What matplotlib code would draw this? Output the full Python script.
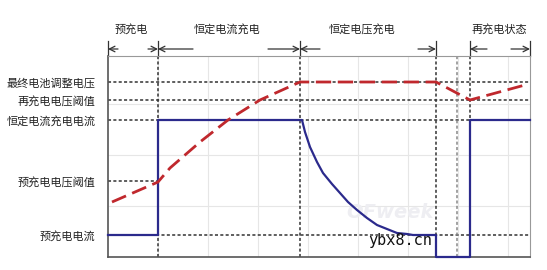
import matplotlib
matplotlib.use("Agg")
import matplotlib.pyplot as plt

plt.rcParams['font.family'] = ['Noto Sans CJK SC', 'DejaVu Sans']

# phase boundaries on the time axis (arbitrary units)
phase_bounds = [0, 50, 192, 328, 349, 362, 422]
phase_labels = ["预充电", "恒定电流充电", "恒定电压充电", "再充电状态"]
phase_label_x = [23, 119, 254, 391]

# reference levels on the y axis
level_labels = ["最终电池调整电压", "再充电电压阈值", "恒定电流充电电流", "预充电电压阈值", "预充电电流"]
level_values = [175, 157, 137, 76, 22]

# battery voltage (red dashed)
voltage_t = [4, 50, 62, 92, 120, 152, 192, 328, 362, 417]
voltage_v = [55, 75, 89, 115, 137, 157, 175, 175, 157, 172]

# charge current (blue)
current_t = [0, 50, 50, 192, 194, 197, 202, 209, 215, 224, 232, 240, 249, 259,
             269, 279, 289, 299, 305, 328, 328, 362, 362, 422]
current_i = [22, 22, 137, 137, 137, 125, 110, 95, 84, 73, 64, 55, 47, 39,
             32, 28, 24, 23, 22, 22, 0, 0, 137, 137]

fig = plt.figure(figsize=(5.47, 2.70), dpi=100)
ax = fig.add_axes([108 / 547, 13 / 270, 422 / 547, 201 / 270])
ax.set_xlim(0, 422)
ax.set_ylim(0, 201)

# faint background grid
ax.vlines(range(50, 422, 50), 0, 201, color="#e6e6e6", lw=0.8, zorder=0)
ax.hlines([51, 102, 153], 0, 422, color="#e6e6e6", lw=0.8, zorder=0)

dot = (0, (2, 1.5))
# horizontal reference lines
for v in level_values:
    x_end = 50 if v == 76 else 422
    ax.hlines(v, 0, x_end, color="#333333", lw=1.1, linestyles=[dot], zorder=1)
# vertical phase lines
for b in phase_bounds[1:-1]:
    c = "#888888" if b == 349 else "#333333"
    ax.vlines(b, 0, 201, color=c, lw=1.1, linestyles=[dot], zorder=1)

ax.plot(current_t, current_i, color="#2b2a8c", lw=1.6, zorder=3, clip_on=False,
        solid_joinstyle="round")
ax.plot(voltage_t, voltage_v, color="#c0282d", lw=2.0, dashes=(5.5, 2.4), zorder=4)

# spines
for s in ["top", "right"]:
    ax.spines[s].set_color("#999999")
    ax.spines[s].set_linewidth(0.8)
for s in ["left", "bottom"]:
    ax.spines[s].set_color("#555555")
    ax.spines[s].set_linewidth(1.2)

ax.set_xticks([])
ax.set_yticks(level_values)
ax.set_yticklabels(level_labels, fontsize=8, color="#222222")
ax.tick_params(axis="y", length=0, pad=9)

# phase markers above the frame
for b in [0, 50, 192, 328, 362, 422]:
    ax.plot([b, b], [201, 216], color="#333333", lw=0.9, clip_on=False)
arrows = [(0, 10), (50, 40), (50, 85), (192, 160), (192, 212),
          (328, 310), (362, 379), (422, 403)]
for tip, tail in arrows:
    ax.annotate("", xy=(tip, 208), xytext=(tail, 208),
                arrowprops=dict(arrowstyle="->", color="#333333", lw=0.9,
                                shrinkA=0, shrinkB=0),
                annotation_clip=False)
for lab, x in zip(phase_labels, phase_label_x):
    ax.text(x, 228, lab, ha="center", va="center", fontsize=8, color="#222222",
            clip_on=False)

# watermarks
ax.text(282, 44, "OFweek", fontsize=14, style="italic", fontweight="bold",
        color="#eeeef2", ha="center", va="center", zorder=2, family="DejaVu Sans")
ax.text(292, 17, "ybx8.cn", fontsize=11, color="#111111", ha="center",
        va="center", zorder=5, family="DejaVu Sans Mono")

fig.savefig("out.png", dpi=100)
